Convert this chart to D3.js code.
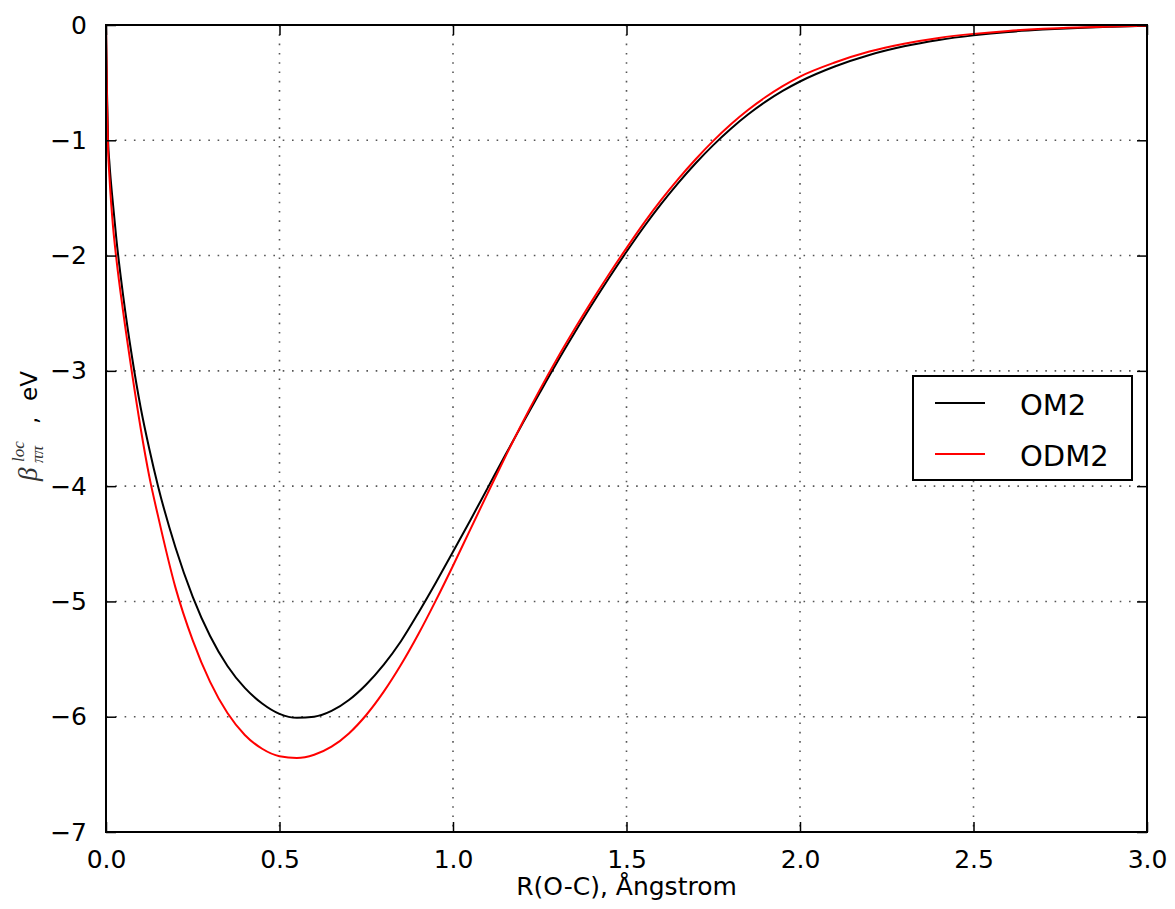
<!DOCTYPE html>
<html>
<head>
<meta charset="utf-8">
<script src="https://cdn.jsdelivr.net/npm/d3@7"></script>
<style>
html,body{margin:0;padding:0;background:#fff;}
svg{display:block;}
</style>
</head>
<body>
<svg id="chart" width="1175" height="909"></svg>
<script>
// ---- data ----
const rValues = [0, 0.003, 0.006, 0.01, 0.02, 0.03, 0.05, 0.075, 0.1, 0.125, 0.15, 0.2, 0.25, 0.3, 0.35, 0.4, 0.45, 0.5, 0.55, 0.6, 0.65, 0.7, 0.75, 0.8, 0.85, 0.9, 0.95, 1.0, 1.05, 1.1, 1.15, 1.2, 1.25, 1.3, 1.35, 1.4, 1.45, 1.5, 1.55, 1.6, 1.65, 1.7, 1.75, 1.8, 1.85, 1.9, 1.95, 2.0, 2.1, 2.2, 2.3, 2.4, 2.5, 2.6, 2.7, 2.8, 2.9, 3.0];
const om2Values = [0, -0.6, -1.0, -1.2, -1.55, -1.86, -2.36, -2.88, -3.32, -3.68, -4.0, -4.53, -4.96, -5.3, -5.56, -5.75, -5.885, -5.975, -6.01, -6.0, -5.95, -5.855, -5.72, -5.55, -5.345, -5.1, -4.84, -4.57, -4.295, -4.015, -3.735, -3.46, -3.19, -2.925, -2.672, -2.427, -2.192, -1.967, -1.752, -1.552, -1.367, -1.197, -1.042, -0.902, -0.777, -0.667, -0.572, -0.49, -0.36, -0.26, -0.185, -0.13, -0.09, -0.06, -0.04, -0.025, -0.015, -0.008];
const odm2Values = [0, -0.68, -1.08, -1.32, -1.74, -2.03, -2.5, -3.02, -3.5, -3.92, -4.26, -4.878, -5.338, -5.698, -5.968, -6.158, -6.278, -6.343, -6.358, -6.33, -6.26, -6.145, -5.985, -5.785, -5.55, -5.285, -4.995, -4.69, -4.375, -4.06, -3.75, -3.45, -3.165, -2.895, -2.64, -2.395, -2.16, -1.935, -1.718, -1.517, -1.332, -1.162, -1.005, -0.863, -0.737, -0.627, -0.53, -0.447, -0.325, -0.23, -0.162, -0.112, -0.077, -0.051, -0.033, -0.021, -0.013, -0.007];
const xTickValues = [0, 0.5, 1.0, 1.5, 2.0, 2.5, 3.0];
const yTickValues = [0, -1, -2, -3, -4, -5, -6, -7];
const seriesNames = ["OM2", "ODM2"];
const seriesColors = ["#000000", "#ff0000"];
const xLabel = "R(O-C), Ångstrom";

// ---- layout ----
const L = 106, R = 1147, T = 25, B = 832;
const svg = d3.select("#chart");
svg.append("rect").attr("width", 1175).attr("height", 909).attr("fill", "#fff");

const x = d3.scaleLinear().domain([0, 3]).range([L, R]);
const y = d3.scaleLinear().domain([-7, 0]).range([B, T]);

const FONT = "'DejaVu Sans', Verdana, sans-serif";
const MATH = "'Liberation Serif', 'DejaVu Serif', serif";

// grid
const grid = svg.append("g");
grid.selectAll("line.gx").data(xTickValues.slice(1, -1)).join("line")
  .attr("x1", d => x(d)).attr("x2", d => x(d)).attr("y1", T).attr("y2", B)
  .attr("stroke", "#555").attr("stroke-width", 1.6).attr("stroke-dasharray", "1.6,7.7");
grid.selectAll("line.gy").data(yTickValues.slice(1, -1)).join("line")
  .attr("y1", d => y(d)).attr("y2", d => y(d)).attr("x1", L).attr("x2", R)
  .attr("stroke", "#555").attr("stroke-width", 1.6).attr("stroke-dasharray", "1.6,7.7");

// clip
svg.append("clipPath").attr("id", "clip").append("rect")
  .attr("x", L).attr("y", T).attr("width", R - L).attr("height", B - T);

const line = d3.line().x(d => x(d[0])).y(d => y(d[1])).curve(d3.curveMonotoneX);
const series = [om2Values, odm2Values];
const lines = svg.append("g").attr("clip-path", "url(#clip)");
series.forEach((vals, i) => {
  lines.append("path")
    .datum(rValues.map((r, k) => [r, vals[k]]))
    .attr("fill", "none").attr("stroke", seriesColors[i]).attr("stroke-width", 2)
    .attr("stroke-linejoin", "round")
    .attr("d", line);
});

// axes (ticks inside)
const xAxisB = d3.axisBottom(x).tickValues(xTickValues).tickFormat(d3.format(".1f")).tickSize(-10).tickPadding(18);
const xAxisT = d3.axisTop(x).tickValues(xTickValues).tickFormat("").tickSize(-10);
const yAxisL = d3.axisLeft(y).tickValues(yTickValues).tickFormat(d => d === 0 ? "0" : "\u2212" + Math.abs(d)).tickSize(-10).tickPadding(19);
const yAxisR = d3.axisRight(y).tickValues(yTickValues).tickFormat("").tickSize(-10);

function styleAxis(g) {
  g.select(".domain").remove();
  g.selectAll(".tick line").attr("stroke", "#000").attr("stroke-width", 1.5);
  g.selectAll(".tick text").attr("fill", "#000").style("font-family", FONT).style("font-size", "25px");
}
svg.append("g").attr("transform", `translate(0,${B})`).call(xAxisB).call(styleAxis);
svg.append("g").attr("transform", `translate(0,${T})`).call(xAxisT).call(styleAxis);
svg.append("g").attr("transform", `translate(${L},0)`).call(yAxisL).call(styleAxis);
svg.append("g").attr("transform", `translate(${R},0)`).call(yAxisR).call(styleAxis);

// frame
svg.append("rect").attr("x", L).attr("y", T).attr("width", R - L).attr("height", B - T)
  .attr("fill", "none").attr("stroke", "#000").attr("stroke-width", 2);

// x label
svg.append("text").attr("x", (L + R) / 2).attr("y", 895)
  .attr("text-anchor", "middle").style("font-family", FONT).style("font-size", "25px")
  .attr("fill", "#000").text(xLabel);

// y label (rotated)
const yl = svg.append("g").attr("transform", "translate(37,481) rotate(-90)");
yl.append("text").attr("x", 0).attr("y", 0)
  .style("font-family", MATH).style("font-style", "italic").style("font-size", "27px")
  .attr("fill", "#333").text("β");
yl.append("text").attr("x", 19).attr("y", -13)
  .style("font-family", MATH).style("font-style", "italic").style("font-size", "17px")
  .attr("fill", "#333").text("loc");
yl.append("text").attr("x", 18).attr("y", 6)
  .style("font-family", MATH).style("font-style", "italic").style("font-size", "17px")
  .attr("fill", "#333").text("ππ");
yl.append("text").attr("x", 57).attr("y", 0)
  .style("font-family", FONT).style("font-size", "23px")
  .attr("fill", "#000").text(",");
yl.append("text").attr("x", 80).attr("y", 0)
  .style("font-family", FONT).style("font-size", "23px")
  .attr("fill", "#000").text("eV");

// legend
const lg = svg.append("g");
lg.append("rect").attr("x", 913).attr("y", 376).attr("width", 219).attr("height", 104)
  .attr("fill", "#fff").attr("stroke", "#000").attr("stroke-width", 2);
const legendY = [403, 454];
seriesNames.forEach((name, i) => {
  lg.append("line").attr("x1", 935).attr("x2", 985).attr("y1", legendY[i]).attr("y2", legendY[i])
    .attr("stroke", seriesColors[i]).attr("stroke-width", 2);
  lg.append("text").attr("x", 1020).attr("y", legendY[i] + 12)
    .style("font-family", FONT).style("font-size", "29px").attr("fill", "#000").text(name);
});
</script>
</body>
</html>
